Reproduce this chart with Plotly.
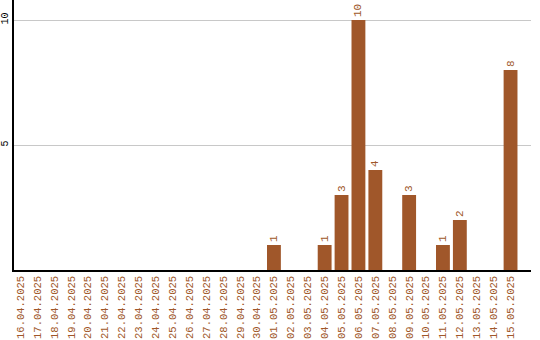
import plotly.graph_objects as go

dates = ["16.04.2025", "17.04.2025", "18.04.2025", "19.04.2025", "20.04.2025",
         "21.04.2025", "22.04.2025", "23.04.2025", "24.04.2025", "25.04.2025",
         "26.04.2025", "27.04.2025", "28.04.2025", "29.04.2025", "30.04.2025",
         "01.05.2025", "02.05.2025", "03.05.2025", "04.05.2025", "05.05.2025",
         "06.05.2025", "07.05.2025", "08.05.2025", "09.05.2025", "10.05.2025",
         "11.05.2025", "12.05.2025", "13.05.2025", "14.05.2025", "15.05.2025"]
counts = [0, 0, 0, 0, 0, 0, 0, 0, 0, 0, 0, 0, 0, 0, 0,
          1, 0, 0, 1, 3, 10, 4, 0, 3, 0, 1, 2, 0, 0, 8]
labels = [str(v) if v else "" for v in counts]

color = "#A0572A"
font_mono = "Liberation Mono"

fig = go.Figure(go.Bar(
    x=list(range(len(dates))), y=counts, text=labels,
    textposition="outside", textangle=-90,
    textfont=dict(family=font_mono, size=11, color=color),
    marker=dict(color=color, line=dict(width=0)),
    width=0.82, cliponaxis=False,
))

fig.update_layout(
    width=540, height=340,
    margin=dict(l=11, r=9, t=0, b=70),
    plot_bgcolor="white", paper_bgcolor="white",
    showlegend=False,
    xaxis=dict(
        range=[-0.38, 30.21], tickmode="array",
        tickvals=list(range(len(dates))), ticktext=dates,
        tickangle=-90, tickfont=dict(family=font_mono, size=10.5, color=color),
        showgrid=False, showline=True, linecolor="black", linewidth=1.5,
        ticks="", zeroline=False,
    ),
    yaxis=dict(
        range=[0, 10.8], tickvals=[5, 10], ticktext=["5", "10"],
        tickangle=-90, tickfont=dict(family=font_mono, size=10, color="black"),
        showgrid=True, gridcolor="#c8c8c8", gridwidth=1,
        showline=True, linecolor="black", linewidth=1.5,
        ticks="", zeroline=False,
    ),
)

fig.write_html("out.html")
